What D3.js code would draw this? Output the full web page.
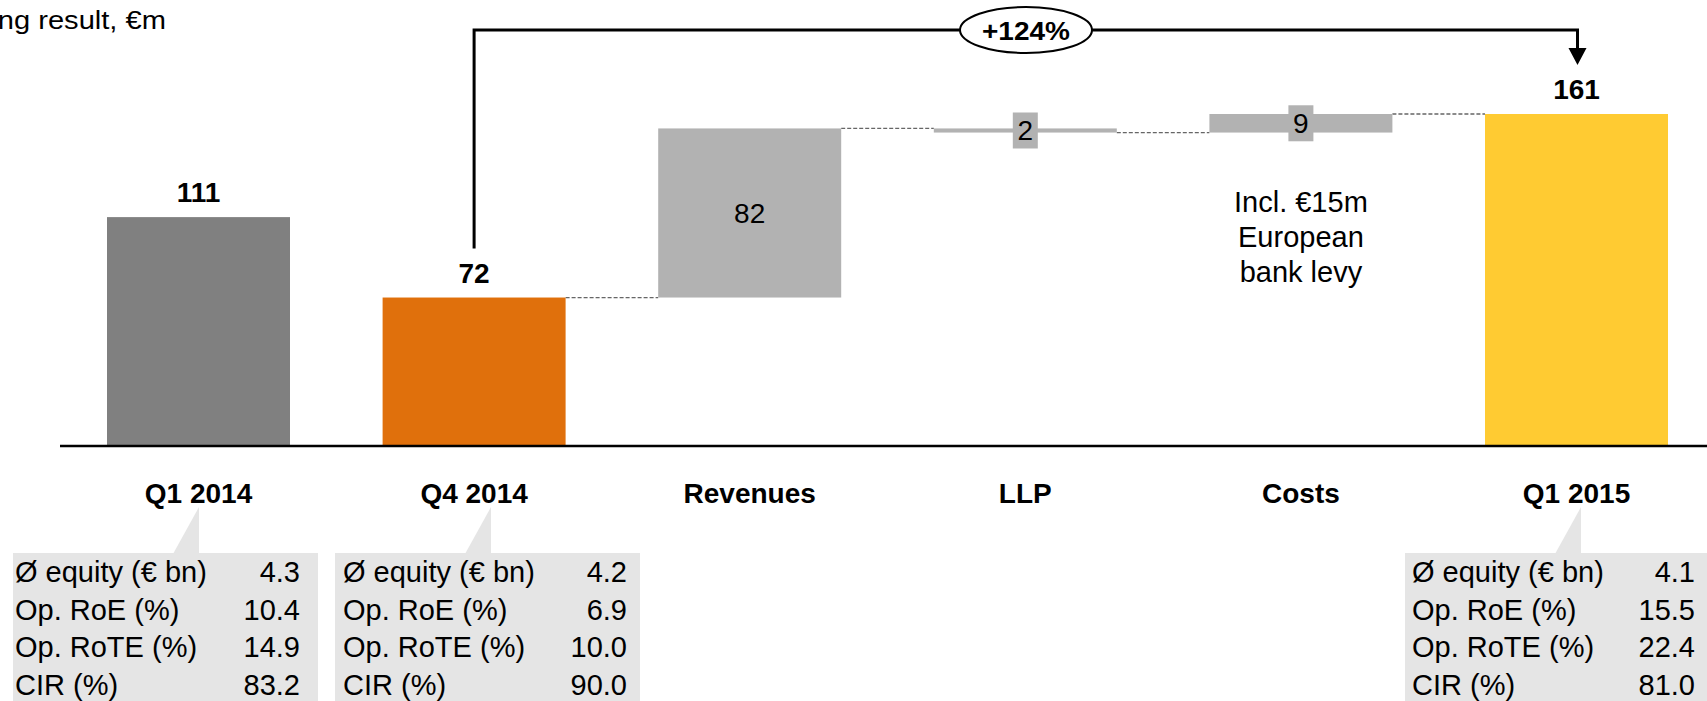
<!DOCTYPE html>
<html>
<head>
<meta charset="utf-8">
<script src="https://cdn.jsdelivr.net/npm/d3@7"></script>
<style>
    body { margin: 0; background: #fff; overflow: hidden; }
    svg { display: block; font-family: 'Liberation Sans', Arial, sans-serif; }
</style>
</head>
<body>
<svg width="1707" height="701"><g></g></svg>
<script>
// chart data
const categories = ['Q1 2014', 'Q4 2014', 'Revenues', 'LLP', 'Costs', 'Q1 2015'];
const barKinds = ['total', 'total', 'delta', 'delta', 'delta', 'total'];
const barValues = [111, 72, 82, -2, 9, 161];
const barLabels = ['111', '72', '82', '2', '9', '161'];
const growthLabel = '+124%';
const noteLines = ['Incl. €15m', 'European', 'bank levy'];

const kpiNames = ['Ø equity (€ bn)', 'Op. RoE (%)', 'Op. RoTE (%)', 'CIR (%)'];
const kpiQ12014 = ['4.3', '10.4', '14.9', '83.2'];
const kpiQ42014 = ['4.2', '6.9', '10.0', '90.0'];
const kpiQ12015 = ['4.1', '15.5', '22.4', '81.0'];

const colors = {
    'Q1 2014': '#808080',
    'Q4 2014': '#e0700c',
    'Q1 2015': '#ffcb32',
    delta: '#b2b2b2',
    box: '#e5e5e5'
};

const svg = d3.select('svg');
const chart = svg.select('g');

// scales
const xScale = d3
    .scaleBand()
    .domain(categories)
    .range([107, 1668])
    .paddingInner(0.336)
    .paddingOuter(0);

const yScale = d3
    .scaleLinear()
    .domain([0, 161])
    .range([446, 114]);

// waterfall bars: totals start at zero, deltas stack on the running total
let running = 0;
const bars = categories.map(function(c, i) {
    let start, end;
    if (barKinds[i] === 'total') {
        start = 0;
        end = barValues[i];
    } else {
        start = running;
        end = running + barValues[i];
    }
    running = end;
    return { cat: c, kind: barKinds[i], start: start, end: end, label: barLabels[i] };
});

// title (cut off by the left edge as in the slide)
chart
    .append('text')
    .attr('transform', 'translate(166,29) scale(1.12,1)')
    .style('text-anchor', 'end')
    .style('font-size', '26px')
    .text('Operating result, €m');

// dashed connectors between the bars of the bridge
const links = bars.slice(1, -1);
chart
    .append('g')
    .selectAll('line')
    .data(links)
    .enter()
    .append('line')
    .attr('x1', d => xScale(d.cat) + xScale.bandwidth())
    .attr('x2', (d, i) => xScale(bars[i + 2].cat))
    .attr('y1', d => yScale(d.end))
    .attr('y2', d => yScale(d.end))
    .style('stroke', '#666')
    .style('stroke-width', 1.3)
    .style('stroke-dasharray', '4,2');

// bars
chart
    .append('g')
    .selectAll('rect')
    .data(bars)
    .enter()
    .append('rect')
    .attr('x', d => xScale(d.cat))
    .attr('width', xScale.bandwidth())
    .attr('y', d => yScale(Math.max(d.start, d.end)))
    .attr('height', d => Math.abs(yScale(d.start) - yScale(d.end)))
    .style('fill', d => (d.kind === 'total' ? colors[d.cat] : colors.delta));

// x axis line
chart
    .append('line')
    .attr('x1', 60)
    .attr('x2', 1707)
    .attr('y1', yScale(0))
    .attr('y2', yScale(0))
    .style('stroke', '#000')
    .style('stroke-width', 2.5);

// category labels
chart
    .append('g')
    .selectAll('text')
    .data(categories)
    .enter()
    .append('text')
    .attr('x', d => xScale(d) + xScale.bandwidth() / 2)
    .attr('y', 503)
    .style('text-anchor', 'middle')
    .style('font-size', '28px')
    .style('font-weight', 'bold')
    .text(d => d);

// total labels above the bars
chart
    .append('g')
    .selectAll('text')
    .data(bars.filter(d => d.kind === 'total'))
    .enter()
    .append('text')
    .attr('x', d => xScale(d.cat) + xScale.bandwidth() / 2)
    .attr('y', d => yScale(d.end) - 15)
    .style('text-anchor', 'middle')
    .style('font-size', '28px')
    .style('font-weight', 'bold')
    .text(d => d.label);

// delta labels, centred in the bar; small bars get a grey tag behind
const deltaLabels = chart
    .append('g')
    .selectAll('g')
    .data(bars.filter(d => d.kind === 'delta'))
    .enter()
    .append('g')
    .attr('transform', d => 'translate(' + (xScale(d.cat) + xScale.bandwidth() / 2) + ',' +
        (yScale(d.start) + yScale(d.end)) / 2 + ')');

deltaLabels
    .filter(d => Math.abs(yScale(d.start) - yScale(d.end)) < 36)
    .append('rect')
    .attr('x', -12.5)
    .attr('y', -18)
    .attr('width', 25)
    .attr('height', 36)
    .style('fill', colors.delta);

deltaLabels
    .append('text')
    .attr('y', 10)
    .style('text-anchor', 'middle')
    .style('font-size', '28px')
    .text(d => d.label);

// note under the costs bar
const costX = xScale('Costs') + xScale.bandwidth() / 2;
chart
    .append('text')
    .style('text-anchor', 'middle')
    .style('font-size', '29px')
    .selectAll('tspan')
    .data(noteLines)
    .enter()
    .append('tspan')
    .attr('x', costX)
    .attr('y', (d, i) => 212 + i * 35)
    .text(d => d);

// growth bracket from Q4 2014 to Q1 2015
const fromX = xScale('Q4 2014') + xScale.bandwidth() / 2;
const toX = xScale('Q1 2015') + xScale.bandwidth() / 2 + 1;
const topY = 30;
chart
    .append('path')
    .attr('d', d3.line()([
        [fromX, yScale(72) - 49],
        [fromX, topY],
        [toX, topY],
        [toX, 50]
    ]))
    .style('fill', 'none')
    .style('stroke', '#000')
    .style('stroke-width', 3);

chart
    .append('path')
    .attr('d', d3.line()([[toX - 9, 48], [toX + 9, 48], [toX, 65]]) + 'Z')
    .style('fill', '#000');

chart
    .append('ellipse')
    .attr('cx', 1026)
    .attr('cy', topY)
    .attr('rx', 66)
    .attr('ry', 23)
    .style('fill', '#fff')
    .style('stroke', '#000')
    .style('stroke-width', 2);

chart
    .append('text')
    .attr('x', 1026)
    .attr('y', 40)
    .attr('textLength', 88)
    .attr('lengthAdjust', 'spacingAndGlyphs')
    .style('text-anchor', 'middle')
    .style('font-size', '25px')
    .style('font-weight', 'bold')
    .text(growthLabel);

// KPI boxes with callout wedges
const boxes = [
    { cat: 'Q1 2014', values: kpiQ12014, x: 13, tx: 15, vx: 300, tip: 199 },
    { cat: 'Q4 2014', values: kpiQ42014, x: 335, tx: 343, vx: 627, tip: 491 },
    { cat: 'Q1 2015', values: kpiQ12015, x: 1405, tx: 1412, vx: 1695, tip: 1581 }
];
const boxTop = 553;

const box = chart
    .append('g')
    .selectAll('g')
    .data(boxes)
    .enter()
    .append('g');

box.append('rect')
    .attr('x', d => d.x)
    .attr('y', boxTop)
    .attr('width', 305)
    .attr('height', 160)
    .style('fill', colors.box);

box.append('path')
    .attr('d', d => d3.line()([[d.tip, 507], [d.tip, boxTop + 1], [d.tip - 26, boxTop + 1]]) + 'Z')
    .style('fill', colors.box);

box.selectAll('.kpi-name')
    .data(kpiNames)
    .enter()
    .append('text')
    .attr('class', 'kpi-name')
    .attr('x', function() { return d3.select(this.parentNode).datum().tx; })
    .attr('y', (d, i) => boxTop + 29 + i * 37.5)
    .style('font-size', '29px')
    .text(d => d);

box.selectAll('.kpi-value')
    .data(d => d.values.map(v => ({ v: v, x: d.vx })))
    .enter()
    .append('text')
    .attr('class', 'kpi-value')
    .attr('x', d => d.x)
    .attr('y', (d, i) => boxTop + 29 + i * 37.5)
    .style('text-anchor', 'end')
    .style('font-size', '29px')
    .text(d => d.v);
</script>
</body>
</html>
